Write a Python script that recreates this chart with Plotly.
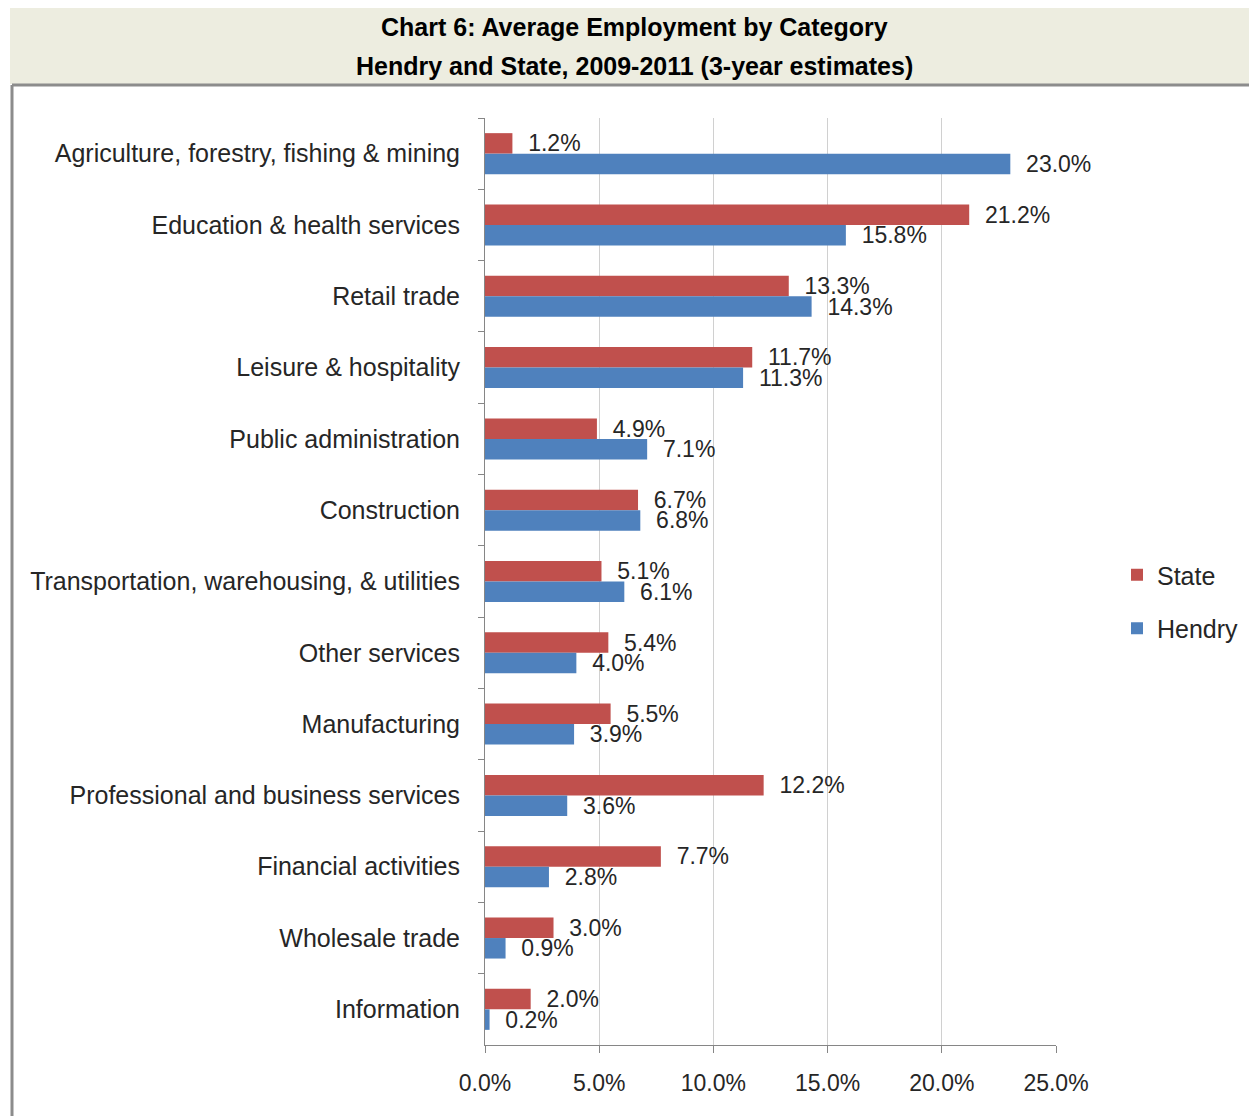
import plotly.graph_objects as go

categories = [
    "Agriculture, forestry, fishing & mining",
    "Education & health services",
    "Retail trade",
    "Leisure & hospitality",
    "Public administration",
    "Construction",
    "Transportation, warehousing, & utilities",
    "Other services",
    "Manufacturing",
    "Professional and business services",
    "Financial activities",
    "Wholesale trade",
    "Information",
]
state = [1.2, 21.2, 13.3, 11.7, 4.9, 6.7, 5.1, 5.4, 5.5, 12.2, 7.7, 3.0, 2.0]
hendry = [23.0, 15.8, 14.3, 11.3, 7.1, 6.8, 6.1, 4.0, 3.9, 3.6, 2.8, 0.9, 0.2]
x_ticks = [0, 5, 10, 15, 20, 25]

FONT = "Liberation Sans, Arial, sans-serif"
TXT = "#262626"

# page has an 8px body margin; work in screen pixels and convert
OFF = 8
SW, SH = 1257, 1116
W, H = SW - OFF, SH - OFF
L, R, T, B = 485, 1056, 118, 1045  # screen pixels of plot area


def px(x):
    return (x - L) / (R - L)


def py(y):
    return (B - y) / (B - T)


fig = go.Figure()
for name, vals, color in [("State", state, "#C0504D"), ("Hendry", hendry, "#4F81BD")]:
    fig.add_trace(go.Bar(
        name=name, legendgroup=name, y=categories, x=vals, orientation="h",
        marker=dict(color=color, line=dict(width=0)),
        text=[f"\u00a0\u00a0{v:.1f}%" for v in vals],
        textposition="outside", constraintext="none", cliponaxis=False,
        textfont=dict(family=FONT, size=23, color=TXT),
        hoverinfo="skip",
    ))

fig.update_layout(
    width=W, height=H,
    margin=dict(l=L - OFF, r=SW - R, t=T - OFF, b=SH - B, pad=0),
    paper_bgcolor="white", plot_bgcolor="white",
    barmode="group", bargap=0.425, bargroupgap=0,
    font=dict(family=FONT, color=TXT),
    showlegend=True,
    legend=dict(
        x=px(1117), y=py(552), xanchor="left", yanchor="top",
        traceorder="grouped", tracegroupgap=18,
        font=dict(family=FONT, size=25, color=TXT),
        itemwidth=30, bgcolor="rgba(0,0,0,0)",
    ),
    xaxis=dict(
        range=[0, 25], tickvals=x_ticks, ticktext=[f"{v:.1f}%" for v in x_ticks],
        showgrid=True, gridcolor="#D0D0D0", gridwidth=1,
        showline=True, linecolor="#868686", linewidth=1,
        ticks="outside", ticklen=7, tickcolor="#868686",
        tickfont=dict(family=FONT, size=23, color=TXT),
        ticklabelstandoff=10,
        zeroline=False, fixedrange=True,
    ),
    yaxis=dict(
        autorange="reversed", categoryorder="array", categoryarray=categories,
        showline=True, linecolor="#868686", linewidth=1,
        ticks="outside", ticklen=6, tickcolor="#868686", tickson="boundaries",
        tickfont=dict(family=FONT, size=25, color=TXT),
        ticklabelstandoff=19,
        showgrid=False, zeroline=False, fixedrange=True,
    ),
    shapes=[
        dict(type="rect", xref="paper", yref="paper",
             x0=px(10), x1=px(1270), y0=py(84), y1=py(-10),
             fillcolor="#EDEDE0", line=dict(width=0), layer="below"),
        dict(type="line", xref="paper", yref="paper",
             x0=px(12), x1=px(1270), y0=py(85), y1=py(85),
             line=dict(color="#8C8C8C", width=3)),
        dict(type="line", xref="paper", yref="paper",
             x0=px(12), x1=px(12), y0=py(85), y1=py(1130),
             line=dict(color="#8C8C8C", width=3)),
    ],
    annotations=[
        dict(text="<b>Chart 6: Average Employment by Category</b>", xref="paper", yref="paper",
             x=px(634), y=py(27), xanchor="center", yanchor="middle", showarrow=False,
             font=dict(family=FONT, size=25, color="black")),
        dict(text="<b>Hendry and State, 2009-2011 (3-year estimates)</b>", xref="paper", yref="paper",
             x=px(634), y=py(66), xanchor="center", yanchor="middle", showarrow=False,
             font=dict(family=FONT, size=25, color="black")),
    ],
)

fig.write_html("out.html")
